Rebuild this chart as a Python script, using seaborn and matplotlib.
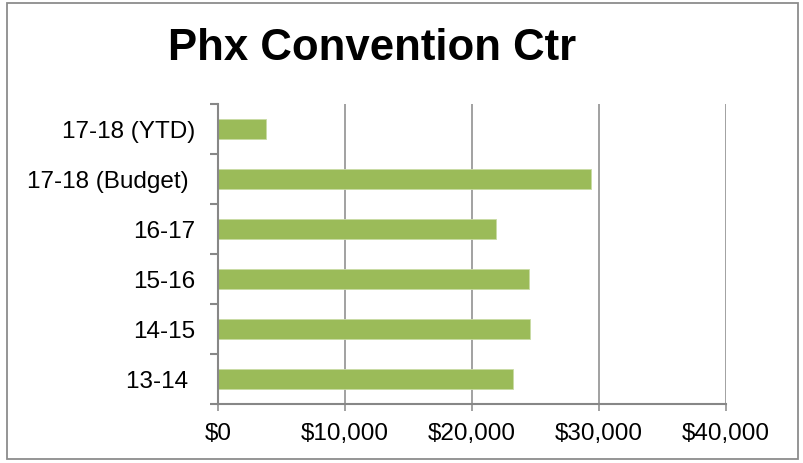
import numpy as np
import pandas as pd
import matplotlib
matplotlib.use("Agg")
import matplotlib.pyplot as plt
import seaborn as sns
from matplotlib.patches import Rectangle
from matplotlib.ticker import FuncFormatter, FixedLocator

categories = ["17-18 (YTD)", "17-18 (Budget) ", "16-17", "15-16", "14-15", "13-14 "]
values = [3800, 29400, 21900, 24500, 24600, 23200]
x_ticks = [0, 10000, 20000, 30000, 40000]
title = "Phx Convention Ctr"

bar_color = "#9BBB59"
grey = "#878787"

sns.set_theme(style="white")
plt.rcParams["font.family"] = ["Liberation Sans", "DejaVu Sans"]

df = pd.DataFrame({"period": categories, "amount": values})

fig = plt.figure(figsize=(8.04, 4.64), dpi=100)
ax = fig.add_axes([218 / 804, 1 - 405 / 464, (726 - 218) / 804, (405 - 105) / 464])

sns.barplot(data=df, x="amount", y="period", color=bar_color, width=0.4,
            orient="h", ax=ax, saturation=1, edgecolor="#c9dba5", linewidth=0.6)

ax.set_xlim(0, 40000)
ax.set_ylim(len(categories) - 0.5, -0.5)
ax.set_xticks(x_ticks)
ax.xaxis.set_major_formatter(FuncFormatter(lambda v, p: "${:,.0f}".format(v)))
ax.set_xlabel("")
ax.set_ylabel("")

ax.xaxis.grid(True, color=grey, linewidth=1.1)
ax.yaxis.grid(False)
ax.set_axisbelow(True)

for side in ["top", "right"]:
    ax.spines[side].set_visible(False)
for side in ["left", "bottom"]:
    ax.spines[side].set_color(grey)
    ax.spines[side].set_linewidth(1.5)

ax.tick_params(axis="x", which="major", bottom=True, direction="out", length=5,
               width=1.1, color=grey, labelsize=17.5, pad=8, labelcolor="black")
ax.tick_params(axis="y", which="major", left=False, length=0, labelsize=17.5,
               pad=16.5, labelcolor="black")
ax.yaxis.set_minor_locator(FixedLocator(np.arange(-0.5, len(categories), 1.0)))
ax.tick_params(axis="y", which="minor", left=True, direction="out", length=6,
               width=1.5, color=grey)

fig.text(372 / 804, 1 - 49 / 464, title, ha="center", va="center",
         fontsize=31.5, fontweight="bold", color="black")

fig.add_artist(Rectangle((7 / 804, 4 / 464), 791 / 804, 456 / 464,
                         transform=fig.transFigure, fill=False,
                         edgecolor="#8c8c8c", linewidth=1.3))

fig.savefig("out.png", dpi=100)
